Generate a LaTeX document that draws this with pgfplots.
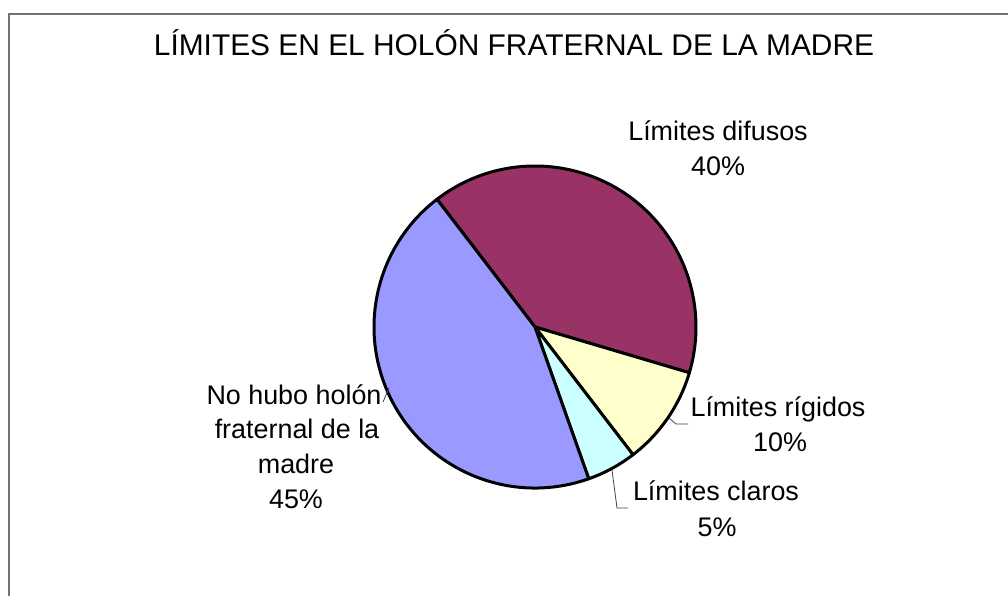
\documentclass[border=0pt]{standalone}
\usepackage{fontspec}
\setmainfont{Liberation Sans}
\usepackage{pgfplots}
\usepackage{pgfplotstable}
\pgfplotsset{compat=1.18}

\definecolor{difusos}{HTML}{993366}
\definecolor{rigidos}{HTML}{FFFFCC}
\definecolor{claros}{HTML}{CCFFFF}
\definecolor{nohubo}{HTML}{9999FF}

\pgfplotstableread{
name value color
difusos 40 difusos
rigidos 10 rigidos
claros 5 claros
nohubo 45 nohubo
}\piedata

\begin{document}
\begin{tikzpicture}
\begin{axis}[
  hide axis, scale only axis,
  width=1008bp, height=596bp,
  xmin=0, xmax=1008, ymin=0, ymax=596,
  y dir=reverse,
  clip=true,
]
% frame (open to the right and bottom, as in the reference)
\draw[black!55, line width=1.2bp] (axis cs:9,596) -- (axis cs:9,14) -- (axis cs:1008,14);

% pie slices from the table
\def\startangle{127.5}
\pgfplotsforeachungrouped \i in {0,...,3}{%
  \pgfplotstablegetelem{\i}{value}\of\piedata \let\val\pgfplotsretval
  \pgfplotstablegetelem{\i}{color}\of\piedata \let\col\pgfplotsretval
  \pgfmathsetmacro\endangle{\startangle-3.6*\val}%
  \edef\temp{\noexpand\path[fill=\col, draw=black, line width=3bp, line join=round]
     (axis cs:535,327) -- ++(\startangle:161bp)
     arc[start angle=\startangle, end angle=\endangle, radius=161bp] -- cycle;}%
  \temp
  \global\let\startangle\endangle
}

% leader lines
\draw[black!75, line width=0.8bp] (axis cs:669,418) -- (axis cs:676,424) -- (axis cs:688,424);
\draw[black!75, line width=0.8bp] (axis cs:612,470) -- (axis cs:617,508) -- (axis cs:628,508);
\draw[black!75, line width=0.8bp] (axis cs:383,402) -- (axis cs:389,388);

% title
\node[anchor=base, font=\fontsize{30}{36}\selectfont] at (axis cs:514,56) {LÍMITES EN EL HOLÓN FRATERNAL DE LA MADRE};

% labels
\begin{scope}[every node/.style={anchor=base, font=\fontsize{27}{35}\selectfont, inner sep=0pt}]
\node at (axis cs:718,140) {Límites difusos};
\node at (axis cs:718,175) {40\%};
\node at (axis cs:778,416) {Límites rígidos};
\node at (axis cs:780,451) {10\%};
\node at (axis cs:716,500) {Límites claros};
\node at (axis cs:717,536) {5\%};
\node at (axis cs:294,404) {No hubo holón};
\node at (axis cs:297,438) {fraternal de la};
\node at (axis cs:296,473) {madre};
\node at (axis cs:296,508) {45\%};
\end{scope}
\end{axis}
\pgfresetboundingbox
\path[use as bounding box] (current axis.south west) rectangle (current axis.north east);
\end{tikzpicture}
\end{document}
